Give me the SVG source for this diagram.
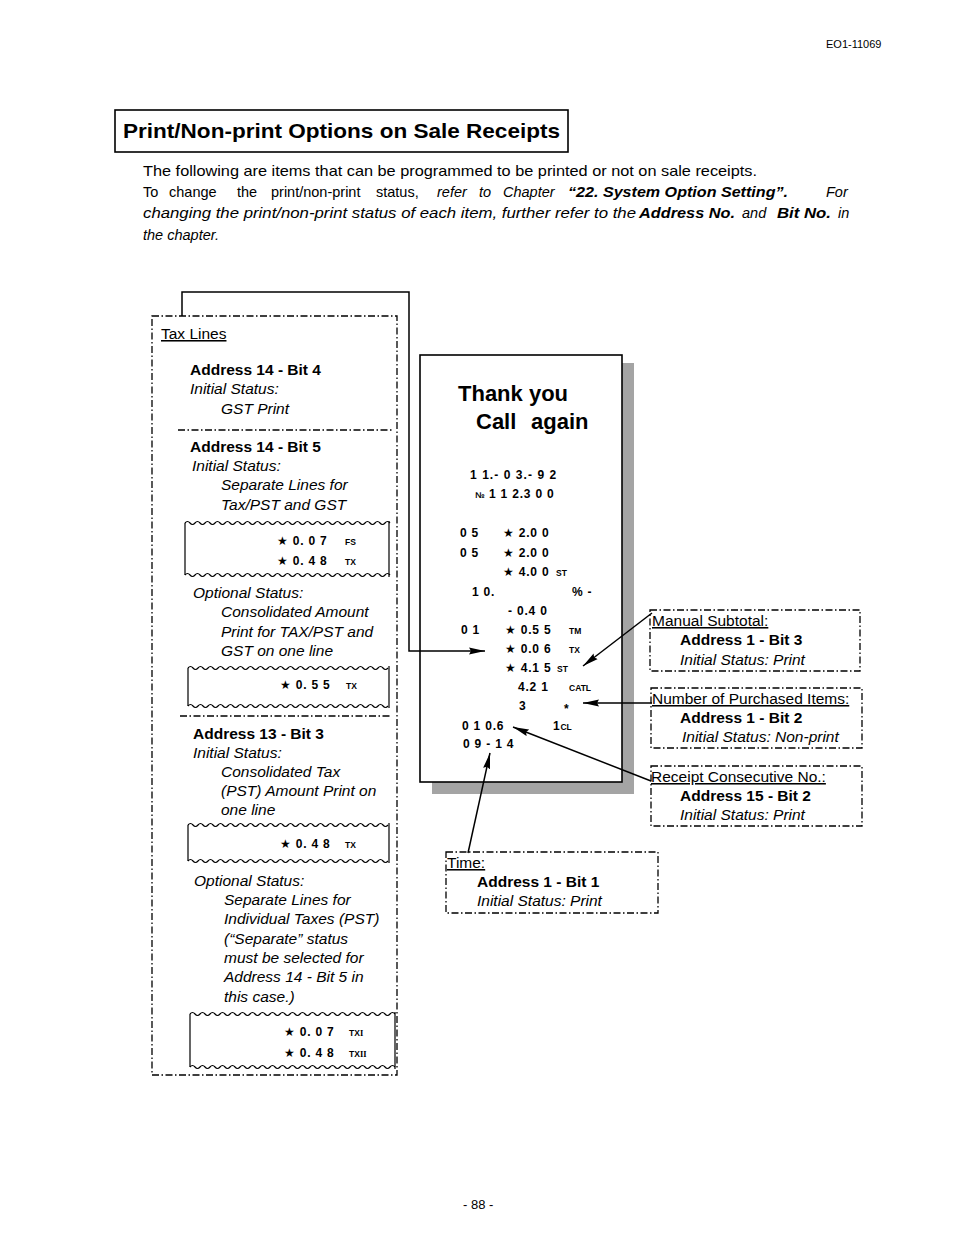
<svg xmlns="http://www.w3.org/2000/svg" width="954" height="1239" viewBox="0 0 954 1239">
<style>
text{font-family:"Liberation Sans",Arial,"DejaVu Sans",sans-serif;fill:#000}
.hd{font-size:11px}
.ti{font-size:21px;font-weight:bold}
.bd{font-size:14.5px}
.bi{font-size:14.5px;font-style:italic}
.bbi{font-size:14.5px;font-style:italic;font-weight:bold}
.b{font-size:15.5px;font-weight:bold}
.i{font-size:15.5px;font-style:italic}
.u{font-size:15.5px;text-decoration:underline}
.r{font-size:12px;font-weight:bold;letter-spacing:0.8px}
.rs{font-size:8.5px;font-weight:bold;letter-spacing:0}
.big{font-size:22px;font-weight:bold}
.dd{fill:none;stroke:#000;stroke-width:1.3;stroke-dasharray:7 2.5 1.5 2.5}
.ln{fill:none;stroke:#000;stroke-width:1.5}
.wv{fill:none;stroke:#000;stroke-width:1.2}
</style>
<defs>
<marker id="ah" viewBox="0 0 16 8" refX="16" refY="4" markerWidth="16" markerHeight="8" markerUnits="userSpaceOnUse" orient="auto">
<path d="M0,0.5 L16,4 L0,7.5 L2,4 z" fill="#000"/>
</marker>
</defs>
<rect width="954" height="1239" fill="#fff"/>

<g id="header">
<text class="hd" x="826" y="48">EO1-11069</text>
</g>

<g id="title">
<rect x="115" y="110" width="453" height="42" fill="none" stroke="#000" stroke-width="1.6"/>
<text class="ti" x="123" y="138" textLength="437" lengthAdjust="spacingAndGlyphs">Print/Non-print Options on Sale Receipts</text>
</g>

<g id="intro">
<text class="bd" x="143" y="176" textLength="614" lengthAdjust="spacingAndGlyphs">The following are items that can be programmed to be printed or not on sale receipts.</text>
<text class="bd" y="197"><tspan x="143">To</tspan><tspan x="169">change</tspan><tspan x="237">the</tspan><tspan x="271">print/non-print</tspan><tspan x="376">status,</tspan></text>
<text class="bi" y="197"><tspan x="437">refer</tspan><tspan x="479">to</tspan><tspan x="503">Chapter</tspan></text>
<text class="bbi" x="568" y="197" textLength="220" lengthAdjust="spacingAndGlyphs">“22. System Option Setting”.</text>
<text class="bi" x="826" y="197">For</text>
<text class="bi" x="143" y="218" textLength="493" lengthAdjust="spacingAndGlyphs">changing the print/non-print status of each item, further refer to the</text>
<text class="bbi" x="639" y="218" textLength="96" lengthAdjust="spacingAndGlyphs">Address No.</text>
<text class="bi" x="742" y="218">and</text>
<text class="bbi" x="777" y="218" textLength="54" lengthAdjust="spacingAndGlyphs">Bit No.</text>
<text class="bi" x="838" y="218">in</text>
<text class="bi" x="143" y="240">the chapter.</text>
</g>

<g id="tax-lines">
<rect class="dd" x="152" y="316" width="245" height="759"/>
<text class="u" x="161" y="339">Tax Lines</text>
<text class="b" x="190" y="375">Address 14 - Bit 4</text>
<text class="i" x="190" y="394">Initial Status:</text>
<text class="i" x="221" y="414">GST Print</text>
<line class="dd" x1="178" y1="430" x2="392" y2="430"/>
<text class="b" x="190" y="452">Address 14 - Bit 5</text>
<text class="i" x="192" y="471">Initial Status:</text>
<text class="i" x="221" y="490">Separate Lines for</text>
<text class="i" x="221" y="510">Tax/PST and GST</text>

<path class="wv" d="M185 523 q2.5 -3 5 0 t5 0 t5 0 t5 0 t5 0 t5 0 t5 0 t5 0 t5 0 t5 0 t5 0 t5 0 t5 0 t5 0 t5 0 t5 0 t5 0 t5 0 t5 0 t5 0 t5 0 t5 0 t5 0 t5 0 t5 0 t5 0 t5 0 t5 0 t5 0 t5 0 t5 0 t5 0 t5 0 t5 0 t5 0 t5 0 t5 0 t5 0 t5 0 t5 0 t5 0"/>
<path class="wv" d="M185 575 q2.5 -3 5 0 t5 0 t5 0 t5 0 t5 0 t5 0 t5 0 t5 0 t5 0 t5 0 t5 0 t5 0 t5 0 t5 0 t5 0 t5 0 t5 0 t5 0 t5 0 t5 0 t5 0 t5 0 t5 0 t5 0 t5 0 t5 0 t5 0 t5 0 t5 0 t5 0 t5 0 t5 0 t5 0 t5 0 t5 0 t5 0 t5 0 t5 0 t5 0 t5 0 t5 0"/>
<path class="wv" d="M185 523 V575 M389 521 V577"/>
<text class="r" x="277" y="545">★ 0. 0 7</text><text class="rs" x="345" y="545">FS</text>
<text class="r" x="277" y="565">★ 0. 4 8</text><text class="rs" x="345" y="565">TX</text>

<text class="i" x="193" y="598">Optional Status:</text>
<text class="i" x="221" y="617">Consolidated Amount</text>
<text class="i" x="221" y="637">Print for TAX/PST and</text>
<text class="i" x="221" y="656">GST on one line</text>

<path class="wv" d="M188 668 q2.5 -3 5 0 t5 0 t5 0 t5 0 t5 0 t5 0 t5 0 t5 0 t5 0 t5 0 t5 0 t5 0 t5 0 t5 0 t5 0 t5 0 t5 0 t5 0 t5 0 t5 0 t5 0 t5 0 t5 0 t5 0 t5 0 t5 0 t5 0 t5 0 t5 0 t5 0 t5 0 t5 0 t5 0 t5 0 t5 0 t5 0 t5 0 t5 0 t5 0 t5 0"/>
<path class="wv" d="M188 706 q2.5 -3 5 0 t5 0 t5 0 t5 0 t5 0 t5 0 t5 0 t5 0 t5 0 t5 0 t5 0 t5 0 t5 0 t5 0 t5 0 t5 0 t5 0 t5 0 t5 0 t5 0 t5 0 t5 0 t5 0 t5 0 t5 0 t5 0 t5 0 t5 0 t5 0 t5 0 t5 0 t5 0 t5 0 t5 0 t5 0 t5 0 t5 0 t5 0 t5 0 t5 0"/>
<path class="wv" d="M188 668 V706 M389 666 V708"/>
<text class="r" x="280" y="689">★ 0. 5 5</text><text class="rs" x="346" y="689">TX</text>

<line class="dd" x1="180" y1="716" x2="392" y2="716"/>
<text class="b" x="193" y="739">Address 13 - Bit 3</text>
<text class="i" x="193" y="758">Initial Status:</text>
<text class="i" x="221" y="777">Consolidated Tax</text>
<text class="i" x="221" y="796">(PST) Amount Print on</text>
<text class="i" x="221" y="815">one line</text>

<path class="wv" d="M188 825 q2.5 -3 5 0 t5 0 t5 0 t5 0 t5 0 t5 0 t5 0 t5 0 t5 0 t5 0 t5 0 t5 0 t5 0 t5 0 t5 0 t5 0 t5 0 t5 0 t5 0 t5 0 t5 0 t5 0 t5 0 t5 0 t5 0 t5 0 t5 0 t5 0 t5 0 t5 0 t5 0 t5 0 t5 0 t5 0 t5 0 t5 0 t5 0 t5 0 t5 0 t5 0"/>
<path class="wv" d="M188 861 q2.5 -3 5 0 t5 0 t5 0 t5 0 t5 0 t5 0 t5 0 t5 0 t5 0 t5 0 t5 0 t5 0 t5 0 t5 0 t5 0 t5 0 t5 0 t5 0 t5 0 t5 0 t5 0 t5 0 t5 0 t5 0 t5 0 t5 0 t5 0 t5 0 t5 0 t5 0 t5 0 t5 0 t5 0 t5 0 t5 0 t5 0 t5 0 t5 0 t5 0 t5 0"/>
<path class="wv" d="M188 825 V861 M389 823 V863"/>
<text class="r" x="280" y="848">★ 0. 4 8</text><text class="rs" x="345" y="848">TX</text>

<text class="i" x="194" y="886">Optional Status:</text>
<text class="i" x="224" y="905">Separate Lines for</text>
<text class="i" x="224" y="924">Individual Taxes (PST)</text>
<text class="i" x="224" y="944">(“Separate” status</text>
<text class="i" x="224" y="963">must be selected for</text>
<text class="i" x="224" y="982">Address 14 - Bit 5 in</text>
<text class="i" x="224" y="1002">this case.)</text>

<path class="wv" d="M190 1014 q2.5 -3 5 0 t5 0 t5 0 t5 0 t5 0 t5 0 t5 0 t5 0 t5 0 t5 0 t5 0 t5 0 t5 0 t5 0 t5 0 t5 0 t5 0 t5 0 t5 0 t5 0 t5 0 t5 0 t5 0 t5 0 t5 0 t5 0 t5 0 t5 0 t5 0 t5 0 t5 0 t5 0 t5 0 t5 0 t5 0 t5 0 t5 0 t5 0 t5 0 t5 0 t5 0"/>
<path class="wv" d="M190 1067 q2.5 -3 5 0 t5 0 t5 0 t5 0 t5 0 t5 0 t5 0 t5 0 t5 0 t5 0 t5 0 t5 0 t5 0 t5 0 t5 0 t5 0 t5 0 t5 0 t5 0 t5 0 t5 0 t5 0 t5 0 t5 0 t5 0 t5 0 t5 0 t5 0 t5 0 t5 0 t5 0 t5 0 t5 0 t5 0 t5 0 t5 0 t5 0 t5 0 t5 0 t5 0 t5 0"/>
<path class="wv" d="M190 1014 V1067 M395 1012 V1069"/>
<text class="r" x="284" y="1036">★ 0. 0 7</text><text class="rs" x="349" y="1036">TX<tspan font-family="'Liberation Serif',serif">I</tspan></text>
<text class="r" x="284" y="1057">★ 0. 4 8</text><text class="rs" x="349" y="1057">TX<tspan font-family="'Liberation Serif',serif">II</tspan></text>
</g>

<g id="receipt">
<rect x="622" y="363" width="12" height="431" fill="#a4a4a4"/>
<rect x="432" y="782" width="202" height="12" fill="#a4a4a4"/>
<rect x="420" y="355" width="202" height="427" fill="#fff" stroke="#000" stroke-width="1.6"/>
<text class="big" x="458" y="401">Thank you</text>
<text class="big" x="476" y="429">Call</text>
<text class="big" x="531" y="429">again</text>
<text class="r" x="470" y="479" textLength="87">1 1.- 0 3.- 9 2</text>
<text class="rs" x="475" y="498">№</text>
<text class="r" x="489" y="498">1 1 2.3 0 0</text>
<text class="r" x="460" y="537">0 5</text><text class="r" x="503" y="537">★ 2.0 0</text>
<text class="r" x="460" y="557">0 5</text><text class="r" x="503" y="557">★ 2.0 0</text>
<text class="r" x="503" y="576">★ 4.0 0</text><text class="rs" x="556" y="576">ST</text>
<text class="r" x="472" y="596">1 0.</text><text class="r" x="572" y="596">% -</text>
<text class="r" x="508" y="615">- 0.4 0</text>
<text class="r" x="461" y="634">0 1</text><text class="r" x="505" y="634">★ 0.5 5</text><text class="rs" x="569" y="634">TM</text>
<text class="r" x="505" y="653">★ 0.0 6</text><text class="rs" x="569" y="653">TX</text>
<text class="r" x="505" y="672">★ 4.1 5</text><text class="rs" x="557" y="672">ST</text>
<text class="r" x="518" y="691">4.2 1</text><text class="rs" x="569" y="691">CATL</text>
<text class="r" x="519" y="710">3</text><text class="r" x="564" y="713">*</text>
<text class="r" x="462" y="730">0 1 0.6</text><text class="r" x="553" y="730">1<tspan class="rs">CL</tspan></text>
<text class="r" x="463" y="748">0 9 - 1 4</text>
</g>

<g id="manual-subtotal">
<rect class="dd" x="650" y="610" width="210" height="61"/>
<text class="u" x="652" y="626">Manual Subtotal:</text>
<text class="b" x="680" y="645">Address 1 - Bit 3</text>
<text class="i" x="680" y="665">Initial Status: Print</text>
</g>

<g id="purchased-items">
<rect class="dd" x="651" y="688" width="211" height="60"/>
<text class="u" x="652" y="704">Number of Purchased Items:</text>
<text class="b" x="680" y="723">Address 1 - Bit 2</text>
<text class="i" x="682" y="742">Initial Status: Non-print</text>
</g>

<g id="receipt-consecutive">
<rect class="dd" x="651" y="766" width="211" height="60"/>
<text class="u" x="651" y="782">Receipt Consecutive No.:</text>
<text class="b" x="680" y="801">Address 15 - Bit 2</text>
<text class="i" x="680" y="820">Initial Status: Print</text>
</g>

<g id="time">
<rect class="dd" x="446" y="852" width="212" height="61"/>
<text class="u" x="447" y="868">Time:</text>
<text class="b" x="477" y="887">Address 1 - Bit 1</text>
<text class="i" x="477" y="906">Initial Status: Print</text>
</g>

<g id="connectors">
<polyline class="ln" points="182,316 182,292 409,292 409,651 485,651" marker-end="url(#ah)"/>
<line class="ln" x1="652" y1="613" x2="583" y2="666" marker-end="url(#ah)"/>
<line class="ln" x1="652" y1="703" x2="583" y2="703" marker-end="url(#ah)"/>
<line class="ln" x1="651" y1="781" x2="513" y2="727" marker-end="url(#ah)"/>
<line class="ln" x1="468" y1="853" x2="490" y2="753" marker-end="url(#ah)"/>
</g>

<g id="footer">
<text x="463" y="1209" font-size="13">- 88 -</text>
</g>
</svg>
